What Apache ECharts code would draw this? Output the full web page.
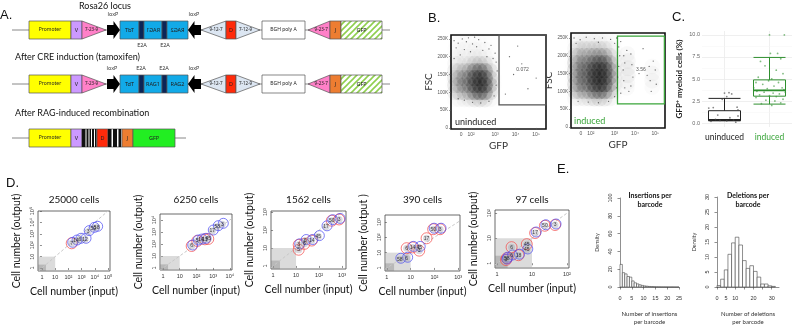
<!DOCTYPE html>
<html>
<head>
<meta charset="utf-8">
<script src="https://cdn.jsdelivr.net/npm/echarts@6/dist/echarts.min.js"></script>
<style>
html,body{margin:0;padding:0;background:#fff;}
#main{width:798px;height:327px;}
</style>
</head>
<body>
<div id="main"></div>
<script>
// ---------- A: construct maps (schematic x units) ----------
const rowTitles = ['Rosa26 locus', 'After CRE induction (tamoxifen)', 'After RAG-induced recombination'];
const locusRow = [[12,390,'line'],[29,71,'promoter'],[71,82,'V'],[82,106,'rss23R'],[107,120,'loxpR'],
  [120,139,'TdT_r'],[139,144,'e2a'],[144,162,'RAG1_r'],[162,167,'e2a'],[167,188,'RAG2_r'],[188,201,'loxpL'],
  [201,226,'rss12L'],[226,236,'D'],[236,260,'rss12R'],[262,305,'bgh'],[308,330,'rss23L'],[330,341,'J'],[341,382,'gfpHatch']];
const creRow = [[12,390,'line'],[29,71,'promoter'],[71,82,'V'],[82,106,'rss23R'],[107,120,'loxpR'],
  [120,139,'TdT'],[139,144,'e2a'],[144,162,'RAG1'],[162,167,'e2a'],[167,188,'RAG2'],[188,201,'loxpL'],
  [201,226,'rss12L'],[226,236,'D'],[236,260,'rss12R'],[262,305,'bgh'],[308,330,'rss23L'],[330,341,'J'],[341,382,'gfpHatch']];
const ragRow = [[12,186,'line'],[29,71,'promoter'],[71,82,'V'],[82,97,'junction'],[82,85.5,'stripe'],[86.5,88.5,'stripe'],
  [89.5,91,'stripe'],[92,94,'stripe'],[95,96.5,'stripe'],[97,108,'D'],[108,122,'junction'],[108,111.5,'stripe'],
  [113,117,'stripe'],[118.5,121,'stripe'],[122,133,'J'],[133,175,'GFP']];
const siteLabels = [[113,0,'loxP',-1],[194,0,'loxP',-1],[142,0,'E2A',1],[165,0,'E2A',1],
  [112,1,'loxP',-1],[141,1,'E2A',-1],[164,1,'E2A',-1],[194,1,'loxP',-1]];

// ---------- B: flow cytometry (x in display decades, y in K) ----------
const bTickVals = [1.34, 1.83, 3, 4, 5];
const bTickText = ['0', '10²', '10³', '10⁴', '10⁵'];
const bDensX1 = [1.05,1.25,1.5,1.75,2.0,2.25,2.5,2.75,2.95];
const bDensY = [240,220,200,180,160,140,120,100,80];
const bDens1 = [
  [0.02,0.03,0.03,0.03,0.03,0.03,0.02,0.01,0],
  [0.03,0.04,0.04,0.04,0.05,0.04,0.03,0.02,0],
  [0.05,0.06,0.06,0.07,0.09,0.09,0.07,0.03,0],
  [0.10,0.10,0.12,0.16,0.24,0.28,0.22,0.08,0.01],
  [0.22,0.26,0.30,0.45,0.70,0.80,0.70,0.28,0.02],
  [0.32,0.38,0.45,0.62,0.90,1.00,0.95,0.42,0.03],
  [0.32,0.38,0.45,0.62,0.90,1.00,1.00,0.48,0.03],
  [0.22,0.25,0.30,0.45,0.72,0.88,0.78,0.32,0.02],
  [0.06,0.08,0.10,0.15,0.22,0.28,0.22,0.08,0.01]];
const bDensX2 = [1.05,1.25,1.5,1.75,2.0,2.25,2.5,2.75,3.0,3.2];
const bDens2 = [
  [0.06,0.08,0.08,0.08,0.08,0.08,0.07,0.05,0.02,0],
  [0.13,0.16,0.18,0.18,0.20,0.20,0.18,0.11,0.04,0],
  [0.28,0.30,0.33,0.38,0.45,0.50,0.45,0.28,0.07,0.01],
  [0.38,0.40,0.46,0.58,0.72,0.85,0.80,0.50,0.10,0.01],
  [0.42,0.48,0.54,0.70,0.95,1.00,1.00,0.65,0.13,0.02],
  [0.42,0.48,0.54,0.70,1.00,1.00,1.00,0.70,0.13,0.02],
  [0.40,0.46,0.50,0.65,0.95,1.00,1.00,0.60,0.10,0.01],
  [0.30,0.33,0.38,0.48,0.65,0.78,0.68,0.38,0.06,0.01],
  [0.10,0.12,0.14,0.18,0.24,0.27,0.22,0.13,0.02,0]];
const bGfpBlobs = [[3.62,205,0.10],[3.65,185,0.14],[3.65,165,0.16],[3.65,145,0.16],[3.62,125,0.12],[3.6,110,0.08],
  [4.85,170,0.07],[4.85,150,0.11],[4.85,130,0.11],[4.85,112,0.07]];
const bDots1 = [[1.0,245],[1.2,238],[1.4,250],[1.6,242],[1.9,236],[2.2,248],[2.5,240],[2.8,232],[1.1,225],[1.5,220],
  [1.8,214],[2.1,228],[2.4,218],[2.7,222],[3.0,210],[1.3,205],[2.6,200],[2.9,195],[3.05,185],[1.0,195],[3.1,160],
  [3.05,120],[2.95,90],[2.7,75],[2.3,70],[1.9,72],[1.5,78],[1.2,82],[3.7,200],[3.9,150],[4.3,180],[4.6,110],
  [4.1,230],[3.5,95],[5.0,140],[2.0,255],[1.7,253]];
const bDots2 = [[3.45,200],[3.5,180],[3.42,160],[3.45,130],[3.5,110],[3.8,205],[3.85,175],[3.9,140],[3.8,115],
  [3.6,215],[3.7,100],[4.7,170],[4.75,130],[4.8,100],[5.0,160],[5.05,120],[4.9,185],[4.6,145],[4.2,150],[4.4,220],
  [3.3,240],[3.0,235],[1.0,250],[1.3,245],[1.6,252],[2.0,248],[2.4,250],[2.8,246],[3.1,250],[1.1,235],[2.2,238],
  [3.2,225],[3.25,200],[3.2,170],[3.15,140],[3.1,110],[3.0,85],[2.7,72],[2.2,68],[1.7,70],[1.2,72],[3.3,95]];
const bGate1 = [3.19, 65, 5.48, 261];
const bGate2 = [3.14, 65, 5.45, 255];
const bGateText = ['0.072', '3.56'];

// ---------- C: GFP+ myeloid cells (%) ----------
const cGroups = ['uninduced', 'induced'];
const cBox = [[0.25,0.3,0.35,1.4,2.8],[2.15,3.05,3.7,4.9,7.45]];
const cJitter0 = [[-0.35,1.7],[-0.25,1.75],[0.0,3.4],[0.1,3.45],[0.16,3.3],[0.05,3.0],[-0.05,2.7],[0.28,1.8],
  [0.3,1.5],[-0.2,0.4],[-0.1,0.3],[0.05,0.25],[0.2,0.35],[0.3,0.8],[-0.3,0.2],[0.12,0.6],[0.25,0.1],[-0.15,0.9]];
const cJitter1 = [[0.0,10.0],[0.33,10.0],[0.02,7.9],[0.18,7.9],[0.25,7.3],[-0.2,7.0],[-0.1,6.5],[0.15,6.0],
  [0.3,5.6],[-0.25,5.2],[0.05,5.0],[-0.3,4.6],[-0.15,4.4],[0.1,4.2],[0.28,4.0],[0.2,4.6],[-0.05,3.9],[0.32,3.8],
  [-0.28,3.6],[-0.12,3.5],[0.08,3.4],[0.22,3.3],[-0.22,3.2],[0.0,3.1],[0.15,3.0],[-0.3,2.9],[0.3,2.7],[-0.08,2.6],
  [0.12,2.5],[0.25,2.3],[-0.18,2.2],[0.05,2.0],[-0.02,4.8],[0.35,3.5],[-0.35,4.0]];

// ---------- D: barcode recovery, cell number input vs output ----------
const dTitles = ['25000 cells', '6250 cells', '1562 cells', '390 cells', '97 cells'];
const dMaxDecade = [5, 4, 3, 3, 2];
const dInput = [
  [178,380,759,1820,3162,7762,13800],
  [52,112,190,324,513,891,1778,3548],
  [13,13,23,25,48,93,200,355,741],
  [3.5,6.8,6.8,12,23,23,47,89,174],
  [1.8,1.9,2.6,4.1,2.6,7.1,7.1,12.3,23.4,45.7]];
const dOutput = [
  [148,234,331,331,1549,3020,3715],
  [68,178,214,245,263,1202,2754,4365],
  [8,15,17,26,26,43,151,331,389],
  [3.7,4.3,19.5,22,22,13.5,87,339,339],
  [1.35,1.6,1.95,2.1,4.4,5.8,3.4,16.2,31.6,33.9]];
const dTags = [
  ['7','14','6','12','3','50','58'],
  ['6','5','14','11','45','17','58','3'],
  ['5','3','6','6','14','45','17','50','3'],
  ['58','6','6','14','45','3','17','50','3'],
  ['3','58','6','18','6','45','45','17','50','3']];
const dRings = [
  ['rb','b','b','b','b','b','b'],
  ['rb','rb','b','rb','r','b','b','b'],
  ['r','rb','r','b','rb','b','b','rb','rb'],
  ['b','b','r','rb','b','r','r','rb','rb'],
  ['rb','rb','b','rb','r','r','b','rb','rb','rb']];
const dLimit = 10, dLowLimit = 2;

// ---------- E: histograms ----------
const insBinWidth = 1;
const insDensity = [25.4,16.1,14.7,11.8,11.1,6.8,4.7,3.5,2.5,1.8,1.2,0.9,0.6,0.4,0.3,0.2,0.15,0.1,0.08,0.05,0.04,0.03,0.02,0.01,0.01];
const delBinWidth = 2;
const delDensity = [0.5,2.6,5.7,10.9,14.7,16.6,14.0,8.8,6.2,7.1,5.2,3.3,1.0,1.0,0.4,0.2];

// ---------- layout ----------
const FONT = 'Lato';
const gridA = {left:0, top:3, width:400, height:162};
const gridB = [{left:451, top:35, width:95, height:94}, {left:571, top:33, width:94, height:95}];
const gridC = {left:702, top:31, width:90, height:96};
const dGrid = [[38,211,72,60],[160,214,72,56],[271,211,75,58],[385,215,75,56],[495,210,74,58]];
const dXRange = [[-0.3,5.15],[-0.18,4.13],[-0.09,3.17],[-0.08,3.08],[-0.06,2.06]];
const dYRange = [[-0.26,5.0],[-0.17,4.5],[-0.17,3.06],[-0.2,3.46],[-0.19,2.13]];
const gridE = [{left:620, top:198, width:59, height:93}, {left:717, top:197, width:62, height:96}];

// ---------- element styles for the schematic ----------
const hatch = document.createElement('canvas');
hatch.width = 6; hatch.height = 6;
(function () {
  const g = hatch.getContext('2d');
  g.fillStyle = '#fff'; g.fillRect(0, 0, 6, 6);
  g.strokeStyle = '#8fcf4f'; g.lineWidth = 1.6;
  g.beginPath();
  g.moveTo(0, 6); g.lineTo(6, 0);
  g.moveTo(-3, 3); g.lineTo(3, -3);
  g.moveTo(3, 9); g.lineTo(9, 3);
  g.stroke();
})();
const EL = {
  line: {shape:'line'},
  promoter: {shape:'rect', fill:'#ffff00', text:'Promoter'},
  V: {shape:'rect', fill:'#cc99ff', text:'V'},
  rss23R: {shape:'triR', fill:'#ff80c8', text:'7-23-9'},
  rss23L: {shape:'triL', fill:'#ff80c8', text:'9-23-7'},
  loxpR: {shape:'arrowR'},
  loxpL: {shape:'arrowL'},
  TdT_r: {shape:'rect', fill:'#12aae8', text:'TdT', mirror:true},
  RAG1_r: {shape:'rect', fill:'#12aae8', text:'RAG1', mirror:true},
  RAG2_r: {shape:'rect', fill:'#12aae8', text:'RAG2', mirror:true},
  TdT: {shape:'rect', fill:'#12aae8', text:'TdT'},
  RAG1: {shape:'rect', fill:'#12aae8', text:'RAG1'},
  RAG2: {shape:'rect', fill:'#12aae8', text:'RAG2'},
  e2a: {shape:'rect', fill:'#0b2557'},
  rss12L: {shape:'triL', fill:'#dce6f2', text:'9-12-7'},
  rss12R: {shape:'triR', fill:'#dce6f2', text:'7-12-9'},
  D: {shape:'rect', fill:'#ff2a0a', text:'D'},
  bgh: {shape:'rect', fill:'#fff', text:'BGH poly A'},
  J: {shape:'rect', fill:'#ed7d31', text:'J'},
  gfpHatch: {shape:'rect', fill:'hatch', text:'GFP'},
  GFP: {shape:'rect', fill:'#22ee22', text:'GFP'},
  junction: {shape:'rect', fill:'#fff'},
  stripe: {shape:'rect', fill:'#111', noStroke:true}
};

const segments = [];
[locusRow, creRow, ragRow].forEach(function (row, r) {
  row.forEach(function (s) { segments.push([s[0], s[1], r, s[2]]); });
});

function boxText(x, y, text, mirror, size) {
  return {type:'text', x:x, y:y, scaleX: mirror ? -1 : 1,
    style:{text:text, fontSize:size, fontFamily:'Noto Sans', fill:'#222',
      align:'center', verticalAlign:'middle', textAlign:'center', textVerticalAlign:'middle'}};
}

function drawSegment(params, api) {
  const seg = segments[params.dataIndex];
  const el = EL[seg[3]];
  const p0 = api.coord([seg[0], seg[2]]);
  const p1 = api.coord([seg[1], seg[2]]);
  const x0 = p0[0], x1 = p1[0], cy = p0[1], h = 9;
  const stroke = {stroke:'#555', lineWidth:0.7};
  const kids = [];
  if (el.shape === 'line') {
    return {type:'line', shape:{x1:x0, y1:cy, x2:x1, y2:cy}, style:{stroke:'#888', lineWidth:1}};
  }
  if (el.shape === 'rect') {
    const fill = el.fill === 'hatch' ? {image:hatch, repeat:'repeat'} : el.fill;
    kids.push({type:'rect', shape:{x:x0, y:cy - h, width:x1 - x0, height:2 * h},
      style:Object.assign({fill:fill}, el.noStroke ? {} : stroke)});
    if (el.text) kids.push(boxText((x0 + x1) / 2, cy, el.text, el.mirror, el.text.length > 6 ? 5 : 5.5));
  } else if (el.shape === 'triR' || el.shape === 'triL') {
    const pts = el.shape === 'triR' ? [[x0, cy - h], [x1, cy], [x0, cy + h]] : [[x1, cy - h], [x0, cy], [x1, cy + h]];
    kids.push({type:'polygon', shape:{points:pts}, style:Object.assign({fill:el.fill}, stroke)});
    const tx = el.shape === 'triR' ? x0 + (x1 - x0) * 0.4 : x1 - (x1 - x0) * 0.4;
    kids.push(boxText(tx, cy, el.text, false, 4.5));
  } else {
    const dir = el.shape === 'arrowR' ? 1 : -1;
    const a = dir > 0 ? x0 : x1, b = dir > 0 ? x1 : x0;
    const m = a + (b - a) * 0.5;
    kids.push({type:'polygon', shape:{points:[[a, cy - 5], [m, cy - 5], [m, cy - 9], [b, cy], [m, cy + 9], [m, cy + 5], [a, cy + 5]]},
      style:{fill:'#000'}});
  }
  return {type:'group', children:kids};
}

function drawSiteLabel(params, api) {
  const s = siteLabels[params.dataIndex];
  const p = api.coord([s[0], s[1]]);
  return {type:'text', x:p[0], y:p[1] + s[3] * 15.5,
    style:{text:s[2], fontSize:5.5, fontFamily:'Noto Sans', fill:'#333',
      align:'center', verticalAlign:'middle', textAlign:'center', textVerticalAlign:'middle'}};
}

// ---------- helpers ----------
const SUP = ['', '', '²', '³', '⁴', '⁵'];
function decLabel(v) { return v === 0 ? '1' : (v === 1 ? '10' : '10' + SUP[v]); }
function range(n) { const a = []; for (let i = 0; i <= n; i++) a.push(i); return a; }

function txt(text, x, y, size, extra) {
  return {type:'text', x:x, y:y, silent:true,
    style:Object.assign({text:text, fontSize:size, fontFamily:FONT, fill:'#111',
      align:'left', verticalAlign:'middle', textAlign:'left', textVerticalAlign:'middle'}, extra || {})};
}

function densityData(xs, ys, mat) {
  const out = [];
  mat.forEach(function (row, r) {
    row.forEach(function (d, c) { if (d > 0) out.push([xs[c], ys[r] * 1000, d]); });
  });
  return out;
}

function densColor(p) { return 'rgba(0,0,0,' + (0.27 * p.value[2]).toFixed(3) + ')'; }

function histItem(params, api) {
  const a = api.coord([api.value(0), 0]);
  const b = api.coord([api.value(1), api.value(2)]);
  return {type:'rect', shape:{x:a[0], y:b[1], width:b[0] - a[0], height:Math.max(a[1] - b[1], 0.01)},
    style:{fill:'#fff', stroke:'#444', lineWidth:0.6}};
}

function histData(vals, w) {
  return vals.map(function (v, i) { return [i * w, (i + 1) * w, v]; });
}

function medianItem(params, api) {
  const p = api.coord([api.value(0), api.value(1)]);
  return {type:'line', shape:{x1:p[0] - 16, y1:p[1], x2:p[0] + 16, y2:p[1]},
    style:{stroke:params.dataIndex ? '#2f8f2f' : '#222', lineWidth:1.8}};
}

// ---------- grids and axes ----------
const grids = [gridA];
const xAxes = [{type:'value', gridIndex:0, min:0, max:400, show:false}];
const yAxes = [{type:'category', gridIndex:0, data:['0','1','2'], inverse:true, show:false}];
const series = [];

series.push({type:'custom', xAxisIndex:0, yAxisIndex:0, silent:true, renderItem:drawSegment,
  encode:{x:[0,1], y:2}, data:segments.map(function (s) { return [s[0], s[1], s[2]]; })});
series.push({type:'custom', xAxisIndex:0, yAxisIndex:0, silent:true, renderItem:drawSiteLabel,
  encode:{x:0, y:1}, data:siteLabels.map(function (s) { return [s[0], s[1]]; })});

// B panels
const bDens = [densityData(bDensX1, bDensY, bDens1), densityData(bDensX2, bDensY, bDens2).concat(bGfpBlobs.map(function (p) { return [p[0], p[1] * 1000, p[2]]; }))];
const bDots = [bDots1, bDots2];
const bGates = [bGate1, bGate2];
const bGateColor = ['#555', '#3aa53a'];
const bYMax = [261000, 264000];
gridB.forEach(function (g, i) {
  const gi = grids.length;
  grids.push(Object.assign({show:true, borderColor:'#111', borderWidth:1.6, backgroundColor:'#fff'}, g));
  xAxes.push({type:'value', gridIndex:gi, min:0.85, max:5.48, name:'GFP', nameLocation:'middle', nameGap:12,
    nameTextStyle:{fontSize:10, fontFamily:FONT, color:'#333'},
    axisLine:{show:false}, splitLine:{show:false},
    axisTick:{customValues:bTickVals, length:2, lineStyle:{color:'#555', width:0.6}},
    axisLabel:{customValues:bTickVals, fontSize:5, color:'#555', margin:3,
      formatter:function (v) { return bTickText[bTickVals.indexOf(v)]; }}});
  yAxes.push({type:'value', gridIndex:gi, min:-3000, max:bYMax[i], name:'FSC', nameLocation:'middle', nameGap:15,
    nameTextStyle:{fontSize:10, fontFamily:FONT, color:'#333'},
    axisLine:{show:false}, splitLine:{show:false},
    axisTick:{customValues:[0,50000,100000,150000,200000,250000], length:2, lineStyle:{color:'#555', width:0.6}},
    axisLabel:{customValues:[0,50000,100000,150000,200000,250000], fontSize:4.5, color:'#555', margin:3,
      formatter:function (v) { return v ? (v / 1000) + 'K' : '0'; }}});
  const ax = xAxes.length - 1, ay = yAxes.length - 1;
  series.push({type:'scatter', xAxisIndex:ax, yAxisIndex:ay, silent:true, symbolSize:16, data:bDens[i],
    itemStyle:{color:densColor, shadowBlur:10, shadowColor:'rgba(0,0,0,0.22)'}});
  const gate = bGates[i];
  series.push({type:'scatter', xAxisIndex:ax, yAxisIndex:ay, silent:true, symbolSize:1.3,
    itemStyle:{color:'#444'}, data:bDots[i].map(function (p) { return [p[0], p[1] * 1000]; }),
    markArea:{silent:true, itemStyle:{color:'rgba(0,0,0,0)', borderColor:bGateColor[i], borderWidth:1.3},
      label:{show:true, position:'inside', formatter:bGateText[i], fontSize:5, color:'#555'},
      data:[[{coord:[gate[0], gate[1] * 1000]}, {coord:[gate[2], gate[3] * 1000]}]]}});
});

// C panel
(function () {
  const gi = grids.length;
  grids.push(Object.assign({show:false}, gridC));
  xAxes.push({type:'category', gridIndex:gi, data:cGroups, axisLine:{show:false}, axisTick:{show:false},
    axisLabel:{interval:0, fontSize:8.5, fontFamily:FONT, margin:6, formatter:function (v, i) { return i ? '{g|' + v + '}' : '{k|' + v + '}'; },
      rich:{k:{color:'#222', fontSize:8.5, fontFamily:FONT}, g:{color:'#3aa53a', fontSize:8.5, fontFamily:FONT}}}});
  const cx = xAxes.length - 1;
  xAxes.push({type:'value', gridIndex:gi, min:-0.5, max:1.5, show:false});
  const cv = xAxes.length - 1;
  yAxes.push({type:'value', gridIndex:gi, min:-0.45, max:10.45,
    name:'{b|GFP}{s|+}{b| myeloid cells (%)}', nameLocation:'middle', nameGap:17,
    nameTextStyle:{rich:{b:{fontSize:8, fontWeight:'bold', fontFamily:FONT, color:'#222'},
      s:{fontSize:5.5, fontWeight:'bold', fontFamily:FONT, color:'#222', verticalAlign:'bottom', padding:[0,0,5,0]}}},
    axisLine:{show:false}, axisTick:{show:false}, splitLine:{show:false},
    axisLabel:{customValues:[0,2.5,5,7.5,10], fontSize:5.5, color:'#666', margin:2,
      formatter:function (v) { return v.toFixed(1); }}});
  const cy = yAxes.length - 1;
  series.push({type:'boxplot', xAxisIndex:cx, yAxisIndex:cy, silent:true, boxWidth:[32,32],
    itemStyle:{color:'#fff', borderWidth:1},
    data:[{value:cBox[0], itemStyle:{borderColor:'#222'}}, {value:cBox[1], itemStyle:{borderColor:'#2f8f2f'}}],
    z:3});
  series.push({type:'custom', xAxisIndex:cv, yAxisIndex:cy, silent:true, z:4, renderItem:medianItem,
    encode:{x:0, y:1}, data:cBox.map(function (b, i) { return [i, b[2]]; })});
  const jit = cJitter0.map(function (p) { return [p[0], p[1]]; }).concat(cJitter1.map(function (p) { return [1 + p[0], p[1]]; }));
  series.push({type:'scatter', xAxisIndex:cv, yAxisIndex:cy, silent:true, symbolSize:1.8, z:5,
    itemStyle:{color:function (p) { return p.value[0] > 0.5 ? 'rgba(60,150,60,0.8)' : 'rgba(70,70,70,0.8)'; }},
    data:jit,
    markLine:{silent:true, symbol:'none', label:{show:false}, z:1,
      data:[{xAxis:0, lineStyle:{color:'#ebebeb', width:0.8, type:'solid'}}, {xAxis:1, lineStyle:{color:'#ebebeb', width:0.8, type:'solid'}}]
        .concat([0,2.5,5,7.5,10].map(function (v) { return {yAxis:v, lineStyle:{color:'#ebebeb', width:0.8, type:'solid'}}; }))
        .concat([1.25,3.75,6.25,8.75].map(function (v) { return {yAxis:v, lineStyle:{color:'#f5f5f5', width:0.5, type:'solid'}}; }))}});
})();

// D panels
dTitles.forEach(function (t, i) {
  const gi = grids.length;
  const g = dGrid[i];
  grids.push({left:g[0], top:g[1], width:g[2], height:g[3], show:true, borderColor:'#444', borderWidth:0.8});
  const ticks = range(dMaxDecade[i]);
  xAxes.push({type:'value', gridIndex:gi, min:dXRange[i][0], max:dXRange[i][1],
    name:'Cell number (input)', nameLocation:'middle', nameGap:15, nameTextStyle:{fontSize:10.5, fontFamily:FONT, color:'#111'},
    axisLine:{show:false}, splitLine:{show:false},
    axisTick:{customValues:ticks, length:2, lineStyle:{color:'#444', width:0.6}},
    axisLabel:{customValues:ticks, formatter:decLabel, fontSize:5.5, color:'#333', margin:3}});
  yAxes.push({type:'value', gridIndex:gi, min:dYRange[i][0], max:dYRange[i][1],
    name:i === 3 ? 'Cell number (output )' : 'Cell number (output)', nameLocation:'middle', nameGap:16,
    nameTextStyle:{fontSize:10.5, fontFamily:FONT, color:'#111'},
    axisLine:{show:false}, splitLine:{show:false},
    axisTick:{customValues:ticks, length:2, lineStyle:{color:'#444', width:0.6}},
    axisLabel:{customValues:ticks, formatter:decLabel, fontSize:5.5, color:'#333', margin:3, rotate:90}});
  const ax = xAxes.length - 1, ay = yAxes.length - 1;
  const xr = dXRange[i], yr = dYRange[i];
  const lo = Math.max(xr[0], yr[0]), hi = Math.min(xr[1], yr[1]);
  const lim = Math.log10(dLimit), low = Math.log10(dLowLimit);
  const pts = dInput[i].map(function (v, k) { return [Math.log10(v), Math.log10(dOutput[i][k])]; });
  // shaded limit zones and the identity line
  series.push({type:'line', xAxisIndex:ax, yAxisIndex:ay, silent:true, symbol:'none', z:1,
    data:[[lo, lo], [hi, hi]], lineStyle:{color:'#c8c8c8', width:1, type:[3, 2]},
    markArea:{silent:true, data:[
      [{coord:[xr[0], yr[0]], itemStyle:{color:'rgba(175,175,175,0.45)'}}, {coord:[lim, lim]}],
      [{coord:[xr[0], yr[0]], itemStyle:{color:'rgba(120,120,120,0.35)'}}, {coord:[low, low]}]]}});
  series.push({type:'scatter', xAxisIndex:ax, yAxisIndex:ay, silent:true, symbolSize:11, z:3,
    itemStyle:{color:'rgba(255,255,255,0)', borderColor:'#f24a4a', borderWidth:0.9},
    data:pts.filter(function (p, k) { return dRings[i][k].indexOf('r') >= 0; })});
  series.push({type:'scatter', xAxisIndex:ax, yAxisIndex:ay, silent:true, symbolSize:10, z:4, symbolOffset:[1, -1],
    itemStyle:{color:'rgba(255,255,255,0)', borderColor:'#4a4af2', borderWidth:0.9},
    data:pts.filter(function (p, k) { return dRings[i][k].indexOf('b') >= 0; })});
  series.push({type:'scatter', xAxisIndex:ax, yAxisIndex:ay, silent:true, symbolSize:7, z:5,
    itemStyle:{color:'rgba(150,150,165,0.45)'},
    label:{show:true, position:'inside', fontSize:5, color:'#111', formatter:function (p) { return dTags[i][p.dataIndex]; }},
    data:pts});
});

// E panels
[[insDensity, insBinWidth, 25, 100, 20, 'Number of insertions\nper barcode', [0,5,10,15,20,25]],
 [delDensity, delBinWidth, 34, 30, 5, 'Number of deletions\nper barcode', [0,5,10,20,30]]].forEach(function (h, i) {
  const gi = grids.length;
  grids.push(Object.assign({show:false}, gridE[i]));
  const xt = i ? [0,5,10,15,20,25,30] : [0,5,10,15,20,25];
  xAxes.push({type:'value', gridIndex:gi, min:0, max:h[2], offset:5,
    name:h[5], nameLocation:'middle', nameGap:18, nameTextStyle:{fontSize:6, fontFamily:FONT, color:'#333', lineHeight:8},
    axisLine:{show:true, lineStyle:{color:'#444', width:0.6}}, splitLine:{show:false},
    axisTick:{customValues:xt, length:2.5, lineStyle:{color:'#444', width:0.6}},
    axisLabel:{customValues:h[6], fontSize:5.5, color:'#333', margin:3}});
  yAxes.push({type:'value', gridIndex:gi, min:0, max:h[3], interval:h[4], offset:4,
    name:'Density', nameLocation:'middle', nameGap:16, nameTextStyle:{fontSize:5.5, fontFamily:FONT, color:'#333'},
    axisLine:{show:true, lineStyle:{color:'#444', width:0.6}}, splitLine:{show:false},
    axisTick:{length:2.5, lineStyle:{color:'#444', width:0.6}},
    axisLabel:{fontSize:5.5, color:'#333', margin:3, rotate:90}});
  series.push({type:'custom', xAxisIndex:xAxes.length - 1, yAxisIndex:yAxes.length - 1, silent:true,
    renderItem:histItem, encode:{x:[0,1], y:2}, data:histData(h[0], h[1])});
});

// ---------- free text ----------
const graphics = [
  txt('A.', 0, 15, 13, {fontFamily:'Liberation Sans'}),
  txt(rowTitles[0], 105, 6, 9, {align:'center', textAlign:'center'}),
  txt(rowTitles[1], 15, 57, 9),
  txt(rowTitles[2], 15, 113, 9),
  txt('B.', 428, 18, 13, {fontFamily:'Liberation Sans'}),
  txt('uninduced', 455, 122, 9, {fill:'#222'}),
  txt('induced', 574, 121, 9, {fill:'#3aa53a'}),
  txt('C.', 672, 17, 13, {fontFamily:'Liberation Sans'}),
  txt('D.', 6, 183, 13, {fontFamily:'Liberation Sans'}),
  txt('E.', 557, 169, 13, {fontFamily:'Liberation Sans'}),
  txt('Insertions per\nbarcode', 650, 200, 7, {align:'center', textAlign:'center', fontWeight:'bold', lineHeight:9}),
  txt('Deletions per\nbarcode', 748, 200, 7, {align:'center', textAlign:'center', fontWeight:'bold', lineHeight:9})
];
dTitles.forEach(function (t, i) {
  const g = dGrid[i];
  graphics.push(txt(t, g[0] + g[2] / 2, 200, 10, {align:'center', textAlign:'center'}));
});

const chart = echarts.init(document.getElementById('main'), null, {renderer:'canvas'});
chart.setOption({
  animation:false,
  backgroundColor:'#fff',
  grid:grids,
  xAxis:xAxes,
  yAxis:yAxes,
  series:series,
  graphic:{elements:graphics}
});
</script>
</body>
</html>
